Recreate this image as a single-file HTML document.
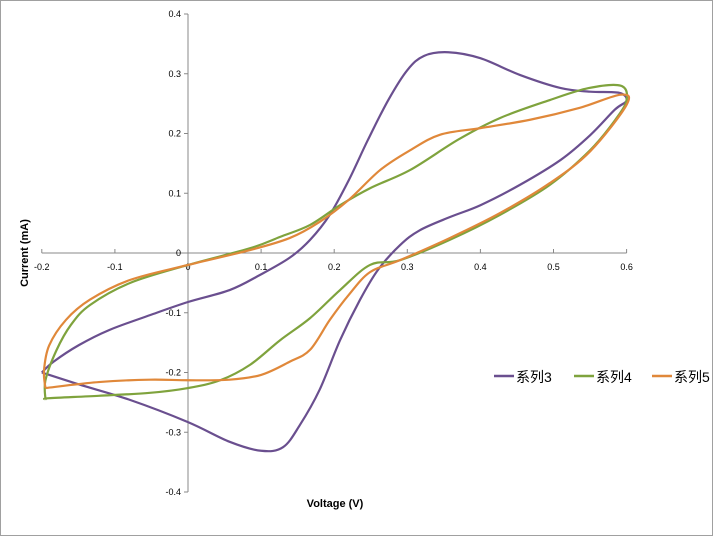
<!DOCTYPE html>
<html><head><meta charset="utf-8"><style>
body{margin:0;background:#fff;}
svg{display:block;font-family:"Liberation Sans","Noto Sans CJK SC",sans-serif;}
</style></head><body>
<svg id="c" width="714" height="537">
<rect x="0.5" y="0.5" width="712" height="535" fill="#fff" stroke="#a0a0a0"/>
<g id="axes"></g>
<g id="series"></g>
<text x="28" y="253" transform="rotate(-90 28 253)" text-anchor="middle" font-size="11" font-weight="bold">Current (mA)</text>
<text x="335" y="507" text-anchor="middle" font-size="11" font-weight="bold">Voltage (V)</text>
</svg>
<script>
const xTicks=[-0.2,-0.1,0,0.1,0.2,0.3,0.4,0.5,0.6];
const yTicks=[0.4,0.3,0.2,0.1,0,-0.1,-0.2,-0.3,-0.4];
const seriesNames=["系列3","系列4","系列5"];
const s3V=[-0.2,-0.149,-0.079,0,0.057,0.1,0.13,0.153,0.18,0.208,0.235,0.26,0.29,0.317,0.358,0.4,0.454,0.51,0.55,0.584,0.6,0.59,0.55,0.51,0.454,0.4,0.356,0.323,0.3,0.274,0.246,0.22,0.194,0.167,0.139,0.098,0.057,0,-0.052,-0.108,-0.149,-0.184,-0.2];
const s3I=[-0.2,-0.22,-0.246,-0.283,-0.316,-0.331,-0.325,-0.288,-0.229,-0.146,-0.079,-0.028,0.013,0.038,0.06,0.08,0.114,0.156,0.197,0.24,0.255,0.268,0.27,0.276,0.298,0.326,0.336,0.33,0.306,0.256,0.189,0.122,0.064,0.022,-0.008,-0.037,-0.062,-0.082,-0.104,-0.129,-0.154,-0.182,-0.2];
const s4V=[-0.195,-0.19,-0.122,-0.052,0,0.044,0.085,0.126,0.167,0.208,0.249,0.29,0.358,0.427,0.495,0.55,0.584,0.6,0.592,0.548,0.495,0.427,0.37,0.304,0.25,0.208,0.167,0.126,0.085,0,-0.079,-0.134,-0.16,-0.18,-0.195,-0.195];
const s4I=[-0.245,-0.243,-0.239,-0.234,-0.226,-0.213,-0.187,-0.146,-0.109,-0.062,-0.02,-0.012,0.022,0.064,0.114,0.172,0.222,0.256,0.28,0.276,0.256,0.226,0.19,0.139,0.109,0.08,0.047,0.027,0.008,-0.02,-0.05,-0.087,-0.12,-0.163,-0.213,-0.245];
const s5V=[-0.195,-0.122,-0.052,0,0.057,0.1,0.139,0.167,0.194,0.22,0.249,0.29,0.358,0.427,0.495,0.55,0.6,0.592,0.536,0.468,0.4,0.345,0.304,0.263,0.22,0.18,0.139,0.085,0,-0.079,-0.134,-0.167,-0.19,-0.197,-0.195];
const s5I=[-0.226,-0.216,-0.212,-0.213,-0.212,-0.204,-0.182,-0.162,-0.112,-0.07,-0.032,-0.012,0.025,0.067,0.117,0.17,0.248,0.265,0.243,0.223,0.209,0.198,0.172,0.139,0.089,0.052,0.025,0.005,-0.02,-0.045,-0.078,-0.112,-0.155,-0.197,-0.226];
const colors=["#6a4f8f","#7fa33d","#e0883a"];
const xs=v=>188+v*731, ys=i=>253-i*597.5;
const NS="http://www.w3.org/2000/svg";
const ax=document.getElementById('axes'), sg=document.getElementById('series'), svg=document.getElementById('c');
function mk(t,a,p){const e=document.createElementNS(NS,t);for(const k in a)e.setAttribute(k,a[k]);(p||ax).appendChild(e);return e;}
let l=mk('line',{x1:xs(0),y1:ys(0.4),x2:xs(0),y2:ys(-0.4),stroke:'#888'});


l=mk('line',{x1:xs(-0.2),y1:ys(0),x2:xs(0.6),y2:ys(0),stroke:'#888'});


xTicks.forEach(v=>{mk('line',{x1:xs(v),y1:ys(0),x2:xs(v),y2:ys(0)-4,stroke:'#888'});
 const t=mk('text',{x:xs(v),y:ys(0)+17,'font-size':9,'text-anchor':'middle'});t.textContent=v;
 
 });
yTicks.forEach(v=>{mk('line',{x1:xs(0),y1:ys(v),x2:xs(0)-4,y2:ys(v),stroke:'#888'});
 const t=mk('text',{x:xs(0)-7,y:ys(v)+3,'font-size':9,'text-anchor':'end'});t.textContent=v;
 
 });
function path(V,I){const p=V.map((v,k)=>[xs(v),ys(I[k])]);let d='M'+p[0][0]+','+p[0][1];
 for(let k=0;k<p.length-1;k++){const a=p[Math.max(k-1,0)],b=p[k],c=p[k+1],e=p[Math.min(k+2,p.length-1)];
 d+=` C${b[0]+(c[0]-a[0])/6},${b[1]+(c[1]-a[1])/6} ${c[0]-(e[0]-b[0])/6},${c[1]-(e[1]-b[1])/6} ${c[0]},${c[1]}`;}return d;}
[[s3V,s3I],[s4V,s4I],[s5V,s5I]].forEach((s,k)=>{
 const p=mk('path',{d:path(s[0],s[1]),fill:'none',stroke:colors[k],'stroke-width':2.2},sg);
 
 
 const lx=[494,574,652][k];
 const ll=mk('line',{x1:lx,y1:376,x2:lx+20,y2:376,stroke:colors[k],'stroke-width':2.5},svg);
 
 
 const t=mk('text',{x:lx+22,y:382,'font-size':14},svg);t.textContent=seriesNames[k];
 
 
});
</script>
</body></html>
